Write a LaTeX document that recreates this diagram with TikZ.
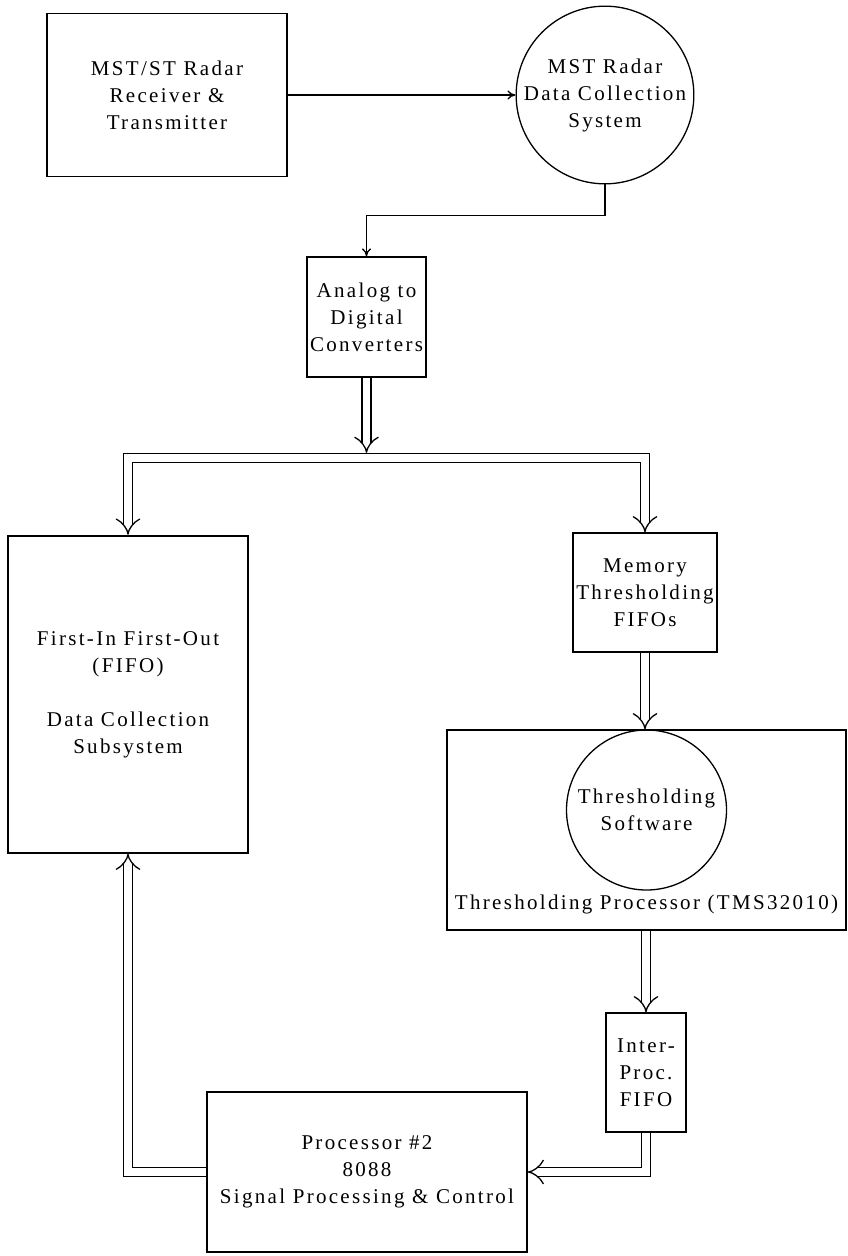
\documentclass[tikz,border=0pt]{standalone}
\usepackage{fontspec}
\setmainfont[LetterSpace=11]{Liberation Serif}
\usepackage{tikz}
\usetikzlibrary{arrows.meta, positioning, calc}

\begin{document}
\begin{tikzpicture}[x=1pt, y=-1pt,
  every node/.style={font=\fontsize{21}{27}\selectfont, align=center},
  blockbox/.style={draw, line width=1.3pt, inner sep=0pt},
  blob/.style={draw, circle, line width=1.3pt, inner sep=0pt},
  sigline/.style={line width=1.3pt, -{To[length=8pt, width=9pt]}},
  busline/.style={double, double distance=7.5pt, line width=1.3pt, shorten <=0.65pt}]

\useasboundingbox (0,0) rectangle (848,1256);

% === Radar front end ===
\node[blockbox, minimum width=240pt, minimum height=163pt] (recv) at (167,95) {MST/ST Radar\\Receiver \&\\Transmitter};
\node[blob, minimum size=176pt] (dcs) at (605,95) {MST Radar\\Data Collection\\System};
\node[blockbox, minimum width=119pt, minimum height=120pt] (adc) at (366.5,317) {Analog to\\Digital\\Converters};

% === Collection and thresholding ===
\node[blockbox, minimum width=240pt, minimum height=317pt] (fifo) at (128,694.5) {First-In First-Out\\(FIFO)\\[27pt]Data Collection\\Subsystem};
\node[blockbox, minimum width=144pt, minimum height=119pt] (mem) at (645,592.5) {Memory\\Thresholding\\FIFOs};
\node[blockbox, minimum width=399pt, minimum height=200pt] (tproc) at (646.5,830) {};
\node[blob, minimum size=160pt] (tsw) at (646.5,810) {Thresholding\\Software};
\node (tproclbl) at (646.5,904) {Thresholding Processor (TMS32010)};

% === Control ===
\node[blockbox, minimum width=80pt, minimum height=119pt] (ipf) at (646,1072.5) {Inter-\\Proc.\\FIFO};
\node[blockbox, minimum width=320pt, minimum height=160pt] (p2) at (367,1172) {Processor \#2\\8088\\Signal Processing \& Control};

% === Connectors ===
\draw[sigline] (recv.east) -- (dcs.west);
\draw[sigline] (dcs.south) -- ++(0,31) -| (adc.north);

\coordinate (bus) at (366.5,458);
\draw[busline, {Implies}-{Implies}] (fifo.north) |- (bus) -| (mem.north);
\draw[busline, -{Implies}] (adc.south) -- ([yshift=5.1pt]bus);
\draw[busline, -{Implies}] (mem.south) -- (mem.south |- tproc.north);
\draw[busline, -{Implies}] (tproc.south -| ipf.north) -- (ipf.north);
\draw[busline, -{Implies}] (ipf.south) |- (p2.east);
\draw[busline, -{Implies}] (p2.west) -| (fifo.south);

\end{tikzpicture}
\end{document}
